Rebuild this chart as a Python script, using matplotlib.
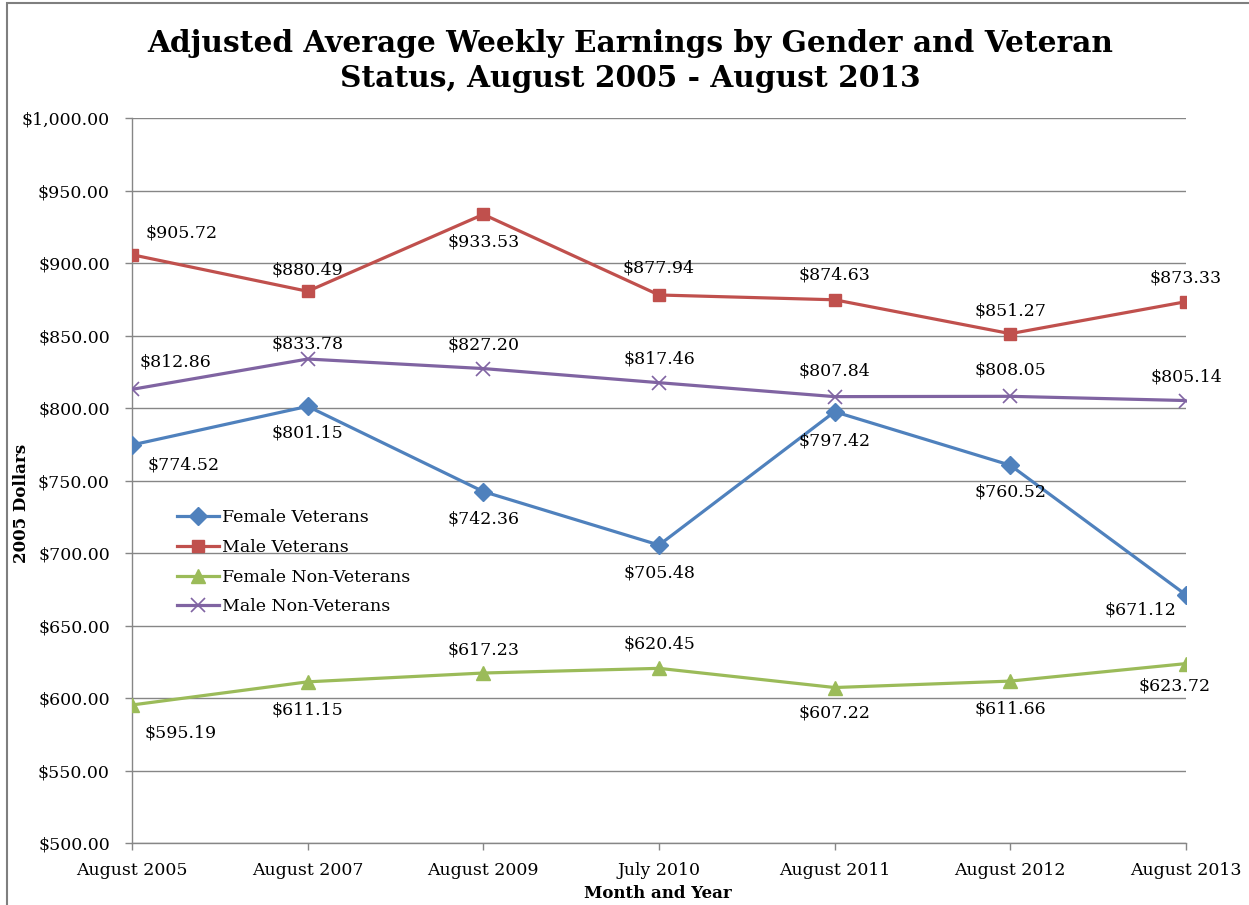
import matplotlib
matplotlib.use("Agg")
import matplotlib.pyplot as plt
from matplotlib.patches import Rectangle

categories = ["August 2005", "August 2007", "August 2009", "July 2010",
              "August 2011", "August 2012", "August 2013"]
female_veterans = [774.52, 801.15, 742.36, 705.48, 797.42, 760.52, 671.12]
male_veterans = [905.72, 880.49, 933.53, 877.94, 874.63, 851.27, 873.33]
female_non_veterans = [595.19, 611.15, 617.23, 620.45, 607.22, 611.66, 623.72]
male_non_veterans = [812.86, 833.78, 827.20, 817.46, 807.84, 808.05, 805.14]
yticks = [500, 550, 600, 650, 700, 750, 800, 850, 900, 950, 1000]

W, H = 1249, 905
fig = plt.figure(figsize=(W / 100, H / 100), dpi=100)
ax = fig.add_axes([132 / W, 1 - 843 / H, (1186 - 132) / W, (843 - 118) / H])

FONT = "DejaVu Serif"
series = [
    ("Female Veterans", female_veterans, "#4F81BD", "D", 9),
    ("Male Veterans", male_veterans, "#C0504D", "s", 9),
    ("Female Non-Veterans", female_non_veterans, "#9BBB59", "^", 10),
    ("Male Non-Veterans", male_non_veterans, "#8064A2", "x", 10),
]
x = list(range(len(categories)))
for name, vals, col, mk, ms in series:
    kw = dict(markeredgewidth=1.2) if mk == "x" else dict(markeredgecolor=col)
    ax.plot(x, vals, color=col, lw=2.3, marker=mk, markersize=ms,
            markerfacecolor=col, label=name, zorder=3, **kw)

# label offsets in pixels (dx, dy) relative to the data point (dy positive = up)
offsets = {
    "Female Veterans": [(52, -20), (0, -27), (0, -27), (0, -28), (0, -29), (0, -27), (-46, -15)],
    "Male Veterans": [(50, 22), (0, 21), (0, -28), (0, 27), (0, 25), (0, 23), (0, 24)],
    "Female Non-Veterans": [(49, -28), (0, -28), (0, 23), (0, 24), (0, -25), (0, -28), (-11, -22)],
    "Male Non-Veterans": [(43, 27), (0, 15), (0, 24), (0, 24), (0, 26), (0, 26), (0, 24)],
}
for name, vals, col, mk, ms in series:
    for i, v in enumerate(vals):
        dx, dy = offsets[name][i]
        ax.annotate(f"${v:,.2f}", xy=(i, v), xytext=(dx * 0.72, dy * 0.72),
                    textcoords="offset points", ha="center", va="center",
                    fontsize=12.5, family=FONT, color="black", zorder=4)

ax.set_xlim(0, 6)
ax.set_ylim(500, 1000)
ax.set_yticks(yticks)
ax.set_yticklabels([f"${t:,.2f}" for t in yticks], family=FONT, fontsize=12.5)
ax.set_xticks(x)
ax.set_xticklabels(categories, family=FONT, fontsize=12.5)
ax.tick_params(axis="both", color="#868686", length=5, width=1)
ax.tick_params(axis="y", pad=11)
ax.tick_params(axis="x", pad=9)
ax.grid(axis="y", color="#868686", lw=1)
ax.set_axisbelow(True)
for s in ["top", "right"]:
    ax.spines[s].set_visible(False)
for s in ["left", "bottom"]:
    ax.spines[s].set_color("#868686")
    ax.spines[s].set_linewidth(1)

fig.text(22 / W, 1 - 503 / H, "2005 Dollars", rotation=90, ha="center", va="center",
         family=FONT, fontsize=12, fontweight="bold")
fig.text(658 / W, 1 - 893 / H, "Month and Year", ha="center", va="center",
         family=FONT, fontsize=12, fontweight="bold")

fig.text(630 / W, 1 - 61 / H,
         "Adjusted Average Weekly Earnings by Gender and Veteran\nStatus, August 2005 - August 2013",
         ha="center", va="center", family=FONT, fontsize=21.3, fontweight="bold",
         linespacing=1.22)

leg = ax.legend(loc="upper left", bbox_to_anchor=(170 / W, 1 - 502 / H),
                bbox_transform=fig.transFigure, frameon=False,
                prop={"family": FONT, "size": 12.5}, handlelength=2.4,
                handletextpad=0.2, labelspacing=0.74, borderaxespad=0)

fig.patches.append(Rectangle((7 / W, -0.1), 1.2, 1.1 - 3 / H, fill=False,
                             edgecolor="#7f7f7f", lw=1.5, transform=fig.transFigure))

fig.savefig("out.png", dpi=100)
